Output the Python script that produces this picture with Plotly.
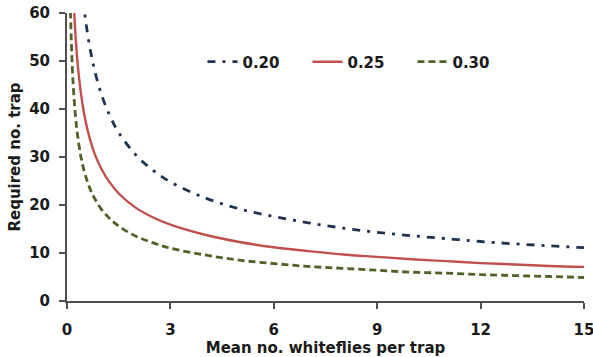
import plotly.graph_objects as go

# Mean no. whiteflies per trap (x) and required no. of traps (y)
x_020 = [0.4, 0.5, 0.6, 0.7, 0.8, 1.0, 1.25, 1.5, 2, 2.5, 3, 4, 5, 6, 7, 8, 9, 10, 11, 12, 13, 14, 15]
y_020 = [68.0, 60.8, 55.5, 51.4, 48.1, 43.0, 38.5, 35.1, 30.4, 27.2, 24.8, 21.5, 19.2, 17.6, 16.3,
         15.2, 14.3, 13.6, 13.0, 12.4, 11.9, 11.5, 11.1]

x_025 = [0.2, 0.25, 0.3, 0.4, 0.5, 0.6, 0.7, 0.8, 1.0, 1.25, 1.5, 2, 2.5, 3, 4, 5, 6, 7, 8, 9, 10, 11, 12, 13, 14, 15]
y_025 = [61.5, 55.0, 50.2, 43.5, 38.9, 35.5, 32.9, 30.7, 27.5, 24.6, 22.4, 19.4, 17.4, 15.9, 13.8,
         12.3, 11.2, 10.4, 9.7, 9.2, 8.7, 8.3, 7.9, 7.6, 7.3, 7.1]

x_030 = [0.1, 0.15, 0.2, 0.25, 0.3, 0.4, 0.5, 0.6, 0.7, 0.8, 1.0, 1.25, 1.5, 2, 2.5, 3, 4, 5, 6, 7, 8, 9, 10, 11, 12, 13, 14, 15]
y_030 = [60.4, 49.3, 42.7, 38.2, 34.9, 30.2, 27.0, 24.7, 22.8, 21.4, 19.1, 17.1, 15.6, 13.5, 12.1,
         11.0, 9.6, 8.5, 7.8, 7.2, 6.8, 6.4, 6.0, 5.8, 5.5, 5.3, 5.1, 4.9]

x_ticks = [0, 3, 6, 9, 12, 15]
y_ticks = [0, 10, 20, 30, 40, 50, 60]

FONT = "DejaVu Sans"
TXT = "#1a1a1a"
AX = "#505050"

fig = go.Figure()
fig.add_trace(go.Scatter(x=x_020, y=y_020, mode="lines", name="<b>0.20</b>", line_shape="spline",
                         line=dict(color="#1F3350", width=2.8, dash="8px,7px,3px,7px")))
fig.add_trace(go.Scatter(x=x_025, y=y_025, mode="lines", name="<b>0.25</b>", line_shape="spline",
                         line=dict(color="#C0504D", width=2.4)))
fig.add_trace(go.Scatter(x=x_030, y=y_030, mode="lines", name="<b>0.30</b>", line_shape="spline",
                         line=dict(color="#4F6228", width=2.8, dash="7px,4px")))

fig.update_layout(
    width=593, height=357,
    margin=dict(l=67, r=9, t=13, b=56, autoexpand=False),
    paper_bgcolor="white", plot_bgcolor="white",
    font=dict(family=FONT, size=15, color=TXT),
    legend=dict(orientation="h", x=0.262, y=0.83, xanchor="left", yanchor="middle",
                bgcolor="rgba(0,0,0,0)", font=dict(family=FONT, size=15, color=TXT),
                entrywidth=60, entrywidthmode="pixels", tracegroupgap=0),
    showlegend=True,
)
fig.update_xaxes(range=[0, 15], tickvals=x_ticks, ticktext=[f"<b>{v}</b>" for v in x_ticks],
                 automargin=False, ticklabeloverflow="allow",
                 showgrid=False, zeroline=False, showline=True, linecolor=AX, linewidth=2,
                 ticks="outside", ticklen=6, tickcolor=AX, tickwidth=2,
                 ticklabelstandoff=8,
                 title=dict(text="<b>Mean no. whiteflies per trap</b>", standoff=3,
                            font=dict(family=FONT, size=15, color=TXT)))
fig.update_yaxes(range=[0, 60], tickvals=y_ticks, ticktext=[f"<b>{v}</b>" for v in y_ticks],
                 automargin=False, ticklabeloverflow="allow",
                 showgrid=False, zeroline=False, showline=True, linecolor=AX, linewidth=2,
                 ticks="outside", ticklen=6, tickcolor=AX, tickwidth=2,
                 ticklabelstandoff=6,
                 title=dict(text="<b>Required no. trap</b>", standoff=5,
                            font=dict(family=FONT, size=15, color=TXT)))

fig.write_html("out.html", config={"displayModeBar": False},
               post_script="document.body.style.margin='0';")
